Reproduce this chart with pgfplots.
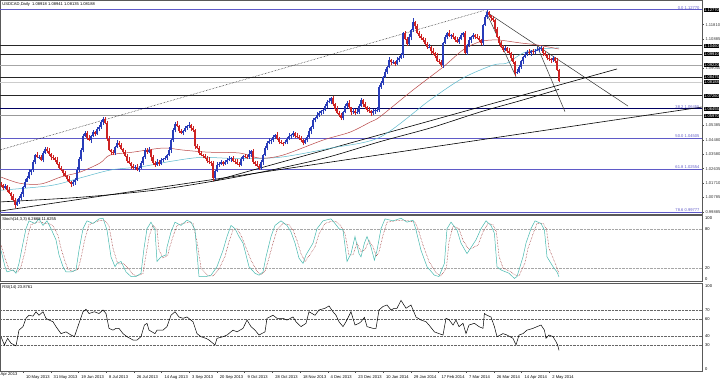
\documentclass[border=0pt]{standalone}
\usepackage{pgfplots}
\pgfplotsset{compat=1.18}
\usepackage{pgfplotstable}
\usepackage{fontspec}
\setmainfont{Liberation Sans}
\definecolor{upc}{RGB}{40,60,185}
\definecolor{dnc}{RGB}{205,35,35}
\definecolor{fibc}{RGB}{95,90,200}
\definecolor{ma1}{RGB}{185,70,70}
\definecolor{ma2}{RGB}{90,185,205}
\definecolor{stk}{RGB}{70,185,175}
\newcommand\ft{\fontsize{4.1}{5}\selectfont}
\pgfplotstableread{
i o h l c
0 160 172 140 150
1 150 158 119 135
2 135 160 128 145
3 145 155 107 120
4 120 140 96 105
5 105 111 60 80
6 80 94 49 60
7 60 69 5 25
8 25 63 19 45
9 45 81 33 70
10 70 107 60 95
11 95 148 79 140
12 140 190 133 175
13 175 210 187 200
14 200 255 191 235
15 235 256 215 250
16 250 314 239 300
17 300 354 285 345
18 345 363 324 330
19 330 346 318 335
20 335 347 304 314
21 314 368 298 360
22 360 398 353 385
23 385 395 357 370
24 370 390 341 350
25 350 356 312 332
26 332 346 314 325
27 325 334 299 314
28 314 332 284 290
29 290 301 253 265
30 265 277 240 250
31 250 258 214 230
32 230 245 203 210
33 210 220 177 190
34 190 210 166 175
35 175 181 140 160
36 160 184 149 170
37 170 195 155 186
38 186 268 180 250
39 250 331 238 320
40 320 390 310 378
41 378 478 362 470
42 470 502 463 487
43 487 497 442 455
44 455 475 433 442
45 442 476 422 470
46 470 507 459 493
47 493 502 465 480
48 480 528 474 510
49 510 536 498 525
50 525 567 515 555
51 555 590 539 575
52 575 590 544 551
53 551 561 437 450
54 450 470 369 378
55 378 384 345 365
56 365 379 348 359
57 359 404 344 395
58 395 441 389 423
59 423 434 398 410
60 410 422 375 385
61 385 393 349 365
62 365 380 333 340
63 340 350 297 310
64 310 330 286 295
65 295 301 255 275
66 275 289 251 262
67 262 279 247 270
68 270 288 244 250
69 250 276 238 265
70 265 307 255 295
71 295 338 279 330
72 330 393 323 378
73 378 388 352 365
74 365 398 356 378
75 378 384 310 330
76 330 344 284 295
77 295 304 267 282
78 282 318 276 300
79 300 311 278 290
80 290 326 280 314
81 314 328 298 320
82 320 342 313 327
83 327 355 314 345
84 345 398 336 378
85 378 446 358 440
86 440 520 429 506
87 506 554 491 545
88 545 563 524 530
89 530 541 488 500
90 500 512 477 487
91 487 508 471 500
92 500 534 493 519
93 519 540 506 530
94 530 558 521 538
95 538 544 500 520
96 520 534 495 506
97 506 515 385 400
98 400 418 384 390
99 390 401 348 360
100 360 372 336 346
101 346 354 324 340
102 340 355 320 327
103 327 337 297 310
104 310 330 291 300
105 300 306 275 295
106 295 309 180 200
107 200 249 185 240
108 240 300 234 282
109 282 301 270 290
110 290 313 280 301
111 301 309 274 290
112 290 316 283 301
113 301 325 288 315
114 315 340 306 320
115 320 333 300 327
116 327 341 299 310
117 310 319 286 301
118 301 319 284 290
119 290 301 270 282
120 282 332 272 320
121 320 348 304 340
122 340 355 328 335
123 335 345 317 330
124 330 375 321 355
125 355 378 335 372
126 372 386 290 301
127 301 310 275 290
128 290 308 269 275
129 275 286 250 262
130 262 312 252 300
131 300 354 284 346
132 346 405 339 390
133 390 433 377 423
134 423 455 414 435
135 435 448 415 442
136 442 474 431 460
137 460 483 445 474
138 474 492 444 450
139 450 461 418 430
140 430 442 413 423
141 423 431 404 420
142 420 444 413 429
143 429 460 416 450
144 450 485 441 465
145 465 480 445 474
146 474 501 463 487
147 487 496 455 470
148 470 488 454 460
149 460 471 443 455
150 455 467 430 440
151 440 448 407 423
152 423 455 416 440
153 440 471 427 461
154 461 520 452 500
155 500 531 480 525
156 525 584 514 570
157 570 589 555 580
158 580 618 574 600
159 600 626 588 615
160 615 637 605 625
161 625 642 609 634
162 634 675 627 660
163 660 695 647 685
164 685 710 676 690
165 690 717 670 711
166 711 725 659 670
167 670 679 625 640
168 640 658 609 615
169 615 626 588 600
170 600 612 573 583
171 583 628 567 620
172 620 675 613 660
173 660 689 647 679
174 679 699 641 650
175 650 656 601 621
176 621 644 610 630
177 630 639 600 615
178 615 639 609 621
179 621 671 609 660
180 660 710 650 698
181 698 706 654 670
182 670 685 643 650
183 650 660 621 634
184 634 654 616 625
185 625 631 595 615
186 615 639 604 625
187 625 643 610 634
188 625 652 619 634
189 634 792 622 781
190 781 822 771 810
191 810 853 794 845
192 845 895 838 880
193 880 919 867 909
194 909 975 900 955
195 955 961 920 940
196 940 956 929 942
197 942 951 915 930
198 930 973 924 955
199 955 981 943 970
200 970 998 960 986
201 986 1135 970 1127
202 1127 1142 1083 1090
203 1090 1100 1044 1057
204 1057 1120 1048 1100
205 1100 1153 1080 1147
206 1147 1224 1136 1198
207 1198 1207 1155 1170
208 1170 1188 1121 1127
209 1127 1138 1098 1110
210 1110 1122 1085 1095
211 1095 1103 1067 1083
212 1083 1098 1053 1060
213 1060 1070 1025 1038
214 1038 1060 1029 1040
215 1040 1046 995 1015
216 1015 1029 988 999
217 999 1008 965 980
218 980 998 944 950
219 950 961 930 942
220 942 954 912 922
221 922 1071 906 1063
222 1063 1115 1056 1100
223 1100 1137 1087 1127
224 1127 1147 1101 1110
225 1110 1121 1090 1115
226 1115 1129 1091 1102
227 1102 1111 1070 1085
228 1085 1103 1064 1070
229 1070 1101 1058 1090
230 1090 1127 1080 1115
231 1115 1135 1099 1127
232 1127 1142 993 1000
233 1000 1060 987 1050
234 1050 1103 1041 1083
235 1083 1106 1063 1100
236 1100 1129 1089 1115
237 1115 1124 1090 1105
238 1105 1123 1089 1095
239 1095 1106 1068 1080
240 1080 1092 1053 1063
241 1063 1188 1047 1180
242 1180 1245 1173 1230
243 1230 1277 1217 1262
244 1262 1268 1231 1240
245 1240 1246 1205 1225
246 1225 1239 1200 1211
247 1211 1220 1135 1150
248 1150 1168 1094 1100
249 1100 1111 1051 1063
250 1063 1075 1030 1040
251 1040 1048 1003 1019
252 1019 1046 1012 1031
253 1031 1041 997 1010
254 1010 1030 990 999
255 999 1005 950 970
256 970 984 931 942
257 942 951 855 870
258 870 898 864 880
259 880 920 868 909
260 909 957 899 945
261 945 981 929 973
262 973 1005 966 990
263 990 1016 977 1006
264 1006 1026 991 1000
265 1000 1016 980 1010
266 1010 1024 995 1006
267 1006 1024 991 1015
268 1015 1037 1009 1019
269 1019 1036 1007 1025
270 1025 1043 1015 1031
271 1031 1039 983 999
272 999 1014 978 985
273 985 995 954 967
274 967 987 951 960
275 960 966 935 955
276 955 981 944 967
277 967 976 935 950
278 950 968 886 892
279 892 894 814 819
}\candles
\begin{document}
\begin{tikzpicture}[x=1pt,y=1pt]
\fill[white] (0,0) rectangle (720,378);
% ---------------- main price panel
\begin{axis}[at={(0pt,164pt)}, anchor=south west, scale only axis,
  width=702pt, height=213.5pt,
  xmin=-0.5, xmax=350.5, ymin=-32.7, ymax=1335.9,
  clip mode=individual,
  axis line style={black!65, line width=0.6pt},
  xtick=\empty,
  ytick pos=right, tick align=outside, major tick length=1.5pt,
  ytick style={black!70, line width=0.4pt},
  ytick={1180.8,1088.5,903.8,534.6,442.3,350,257.7,165.4,73.1,-19.2},
  yticklabels={1.11810,1.10885,1.09040,1.05385,1.04480,1.03580,1.02635,1.01710,1.00785,0.99885},
  yticklabel style={font=\ft, anchor=west, xshift=-1.5pt, text=black!80},
  ]
% fib lines
\addplot[fibc, line width=0.5pt] coordinates {(-0.5,1277) (350.5,1277)};
\addplot[fibc, line width=0.5pt] coordinates {(-0.5,450.5) (350.5,450.5)};
\addplot[fibc, line width=0.5pt] coordinates {(-0.5,255.4) (350.5,255.4)};
\addplot[fibc, line width=0.5pt] coordinates {(-0.5,-22.3) (350.5,-22.3)};
% horizontal levels
\addplot[black!85, line width=0.5pt] coordinates {(-0.5,1046) (350.5,1046)};
\addplot[black!85, line width=0.5pt] coordinates {(-0.5,991) (350.5,991)};
\addplot[black!35, line width=1.0pt] coordinates {(-0.5,922) (350.5,922)};
\addplot[black!85, line width=0.5pt] coordinates {(-0.5,847) (350.5,847)};
\addplot[black!20, line width=0.5pt] coordinates {(-0.5,811) (350.5,811)};
\addplot[black!85, line width=0.5pt] coordinates {(-0.5,726) (350.5,726)};
\addplot[black!40, line width=0.6pt] coordinates {(-0.5,597) (350.5,597)};
\addplot[black!45!blue!70!black, line width=1.0pt] coordinates {(-0.5,642) (350.5,642)};
% trend lines
\addplot[black, densely dotted, line width=0.5pt] coordinates {(-0.5,378) (241.5,1272)};
\addplot[black!80, line width=0.5pt] coordinates {(242.5,1264) (313.5,659)};
\addplot[black!80, line width=0.5pt] coordinates {(242.5,1264) (257.5,847)};
\addplot[black!80, line width=0.5pt] coordinates {(267.8,1051) (282,623)};
\addplot[black, line width=0.6pt] coordinates {(106,178) (308,897)};
\addplot[black, line width=0.6pt] coordinates {(-0.5,-14) (350.5,653)};
% moving averages
\addplot[black, line width=0.6pt, smooth] coordinates {(0,45) (40,75) (80,125) (120,210) (160,320) (189.5,431) (215,520) (239.5,621) (260,695) (279,767)};
\addplot[ma2, line width=0.5pt, smooth] coordinates {(0,120) (25,150) (40,200) (55,250) (70,270) (85,305) (100,330) (120,322) (140,332) (165,390) (189.5,460) (214.5,698) (231,839) (246,922) (253,935) (261,999) (269.5,1025) (279,1032)};
\addplot[ma1, line width=0.5pt, smooth] coordinates {(0,204) (9.5,164) (20,160) (30,205) (39.5,236) (49.5,294) (54.5,345) (66,364) (81,390) (91,377) (103,364) (119.5,358) (129.5,325) (141,345) (161,441) (174.5,492) (184.5,556) (189.5,591) (206,762) (221,909) (231,1019) (239.5,1072) (248,1083) (259.5,1064) (268,1051) (279,1025)};
% candles: wicks
\addplot[draw=none, mark=none, error bars/.cd, y dir=plus, y explicit, error mark=none,
  error bar style={draw=upc, line width=0.45pt}]
  table[x=i, y expr={\thisrow{c}>=\thisrow{o} ? \thisrow{l} : nan}, y error expr=\thisrow{h}-\thisrow{l}] {\candles};
\addplot[draw=none, mark=none, error bars/.cd, y dir=plus, y explicit, error mark=none,
  error bar style={draw=dnc, line width=0.45pt}]
  table[x=i, y expr={\thisrow{c}<\thisrow{o} ? \thisrow{l} : nan}, y error expr=\thisrow{h}-\thisrow{l}] {\candles};
% candles: bodies
\addplot[draw=none, mark=none, error bars/.cd, y dir=plus, y explicit, error mark=none,
  error bar style={draw=upc, line width=1.3pt, line cap=butt}]
  table[x=i, y expr={\thisrow{c}>=\thisrow{o} ? \thisrow{o} : nan}, y error expr=\thisrow{c}-\thisrow{o}] {\candles};
\addplot[draw=none, mark=none, error bars/.cd, y dir=plus, y explicit, error mark=none,
  error bar style={draw=dnc, line width=1.3pt, line cap=butt}]
  table[x=i, y expr={\thisrow{c}<\thisrow{o} ? \thisrow{c} : nan}, y error expr=\thisrow{o}-\thisrow{c}] {\candles};
% labels
\node[font=\ft, anchor=north west, inner sep=0pt] at (rel axis cs:0.003,0.99) {USDCAD,Daily\ \ 1.08918 1.08941 1.08135 1.08188};
\node[font=\ft, text=fibc, anchor=south east, inner sep=0.4pt] at (axis cs:349.5,1277) {0.0\ 1.12770};
\node[font=\ft, text=fibc, anchor=south east, inner sep=0.4pt] at (axis cs:349.5,642) {38.2\ 1.06455};
\node[font=\ft, text=fibc, anchor=south east, inner sep=0.4pt] at (axis cs:349.5,450.5) {50.0\ 1.04505};
\node[font=\ft, text=fibc, anchor=south east, inner sep=0.4pt] at (axis cs:349.5,255.4) {61.8\ 1.02554};
\node[font=\ft, text=fibc, anchor=south east, inner sep=0.4pt] at (axis cs:349.5,-22.3) {78.6\ 0.99777};
\node[font=\ft, fill=black, text=white, anchor=west, inner sep=0.5pt] at (axis cs:351.2,1277) {1.12770};
\node[font=\ft, fill=black, text=white, anchor=west, inner sep=0.5pt] at (axis cs:351.2,1046) {1.10460};
\node[font=\ft, fill=black, text=white, anchor=west, inner sep=0.5pt] at (axis cs:351.2,991) {1.09910};
\node[font=\ft, fill=black, text=white, anchor=west, inner sep=0.5pt] at (axis cs:351.2,922) {1.09220};
\node[font=\ft, fill=black, text=white, anchor=west, inner sep=0.5pt] at (axis cs:351.2,847) {1.08475};
\node[font=\ft, fill=black, text=white, anchor=west, inner sep=0.5pt] at (axis cs:351.2,811) {1.08188};
\node[font=\ft, fill=black, text=white, anchor=west, inner sep=0.5pt] at (axis cs:351.2,726) {1.07260};
\node[font=\ft, fill=black, text=white, anchor=west, inner sep=0.5pt] at (axis cs:351.2,642) {1.06455};
\node[font=\ft, fill=black, text=white, anchor=west, inner sep=0.5pt] at (axis cs:351.2,597) {1.05970};
\end{axis}
% ---------------- stochastic panel
\begin{axis}[at={(0pt,96.9pt)}, anchor=south west, scale only axis,
  width=702pt, height=65.5pt,
  xmin=-0.5, xmax=350.5, ymin=0, ymax=100,
  clip mode=individual,
  axis line style={black!65, line width=0.6pt},
  xtick=\empty, ytick=\empty]
\addplot[black!35, densely dotted, line width=0.4pt] coordinates {(-0.5,20) (350.5,20)};
\addplot[black!35, densely dotted, line width=0.4pt] coordinates {(-0.5,80) (350.5,80)};
\addplot[dnc!70!black, densely dotted, line width=0.5pt] coordinates {(0,55) (2,35) (4,18) (7,15) (8.5,14) (10,22) (12,45) (13.5,70) (15,86) (18,90) (20,90) (22,88) (24,88) (26,84) (28.5,70) (30,50) (32,30) (33.5,18) (36,15) (38.5,18) (40,35) (42,65) (44,86) (47,90) (50,93) (52,92) (54,85) (56,50) (58,30) (59,26) (61,27) (63.5,20) (66,10) (68.5,8) (71,12) (72.5,40) (74,68) (76,85) (78,78) (79,48) (81,35) (83.5,40) (84,48) (86,68) (88,85) (91,88) (94,90) (96,88) (98,60) (100,20) (103.5,8) (106,8) (109,18) (112,38) (114,60) (116,78) (118,80) (120,70) (122,55) (125,32) (128,15) (130,10) (132,15) (133.5,30) (136,58) (138,78) (141,88) (144,86) (146,78) (148,62) (150,42) (152,30) (153.5,36) (157,52) (159,72) (162,88) (166,92) (168,90) (170,84) (172,72) (174,40) (176,40) (178,58) (180,45) (182,48) (184,62) (186,52) (187.7,38) (189,45) (191,70) (193,90) (197,92) (201,93) (204,92) (207,90) (208.5,80) (211,55) (214,30) (217.7,12) (220,8) (222.7,20) (224,60) (226,84) (229,80) (231,62) (234,48) (238.5,55) (241,75) (243.5,88) (246,86) (247.7,75) (249,38) (251,20) (255,14) (257.7,8) (259,8) (262,28) (263.5,50) (266,72) (268,88) (271,88) (272.7,80) (274,50) (277,28) (279,11.6)};
\addplot[stk, line width=0.5pt] coordinates {(0,47) (2,22) (3,14) (6,17) (7.5,12) (9,27) (11,58) (12.5,80) (14,92) (17,88) (19,95) (21,85) (23,92) (25,80) (27.5,63) (29,40) (31,22) (32.5,14) (35,14) (37.5,17) (39,47) (41,80) (43,92) (46,88) (49,95) (51,96) (53,78) (55,37) (57,22) (58,27) (60,30) (62.5,14) (65,7) (67.5,7) (70,12) (71.5,50) (73,80) (75,90) (77,78) (78,30) (80,37) (82.5,40) (83,52) (85,75) (87,90) (90,85) (93,93) (95,90) (97,78) (99,7) (102.5,7) (105,9) (108,22) (111,47) (113,68) (115,85) (117,80) (119,68) (121,58) (124,22) (127,12) (129,9) (131,14) (132.5,37) (135,68) (137,85) (140,92) (143,85) (145,75) (147,58) (149,35) (151,27) (152.5,40) (156,58) (158,80) (161,92) (165,95) (167,88) (169,80) (171,78) (173,30) (175,42) (177,68) (179,42) (180,37) (181.7,58) (183,68) (185,52) (186.7,32) (188,47) (190,80) (192,95) (196,92) (200,96) (203,90) (206,93) (207.5,78) (210,47) (213,22) (216.7,9) (219,7) (221.7,27) (223,80) (225,90) (228,78) (230,58) (233,42) (237.5,63) (240,80) (242.5,92) (245,85) (246.7,73) (248,22) (250,17) (254,12) (256.7,4) (258,7) (261,37) (262.5,58) (265,80) (267,92) (270,88) (271.7,78) (273,37) (276,22) (278,14) (279,6.3)};
\node[font=\ft, anchor=north west, inner sep=0pt] at (rel axis cs:0.003,0.97) {Stoch(14,3,3) 6.2668 11.6255};
\node[font=\ft, anchor=north west, inner sep=0pt] at (axis cs:352,99) {100};
\node[font=\ft, anchor=west, inner sep=0pt] at (axis cs:352,80) {80};
\node[font=\ft, anchor=west, inner sep=0pt] at (axis cs:352,20) {20};
\node[font=\ft, anchor=south west, inner sep=0pt] at (axis cs:352,1) {0};
\end{axis}
% ---------------- RSI panel
\begin{axis}[at={(0pt,6.75pt)}, anchor=south west, scale only axis,
  width=702pt, height=87.5pt,
  xmin=-0.5, xmax=350.5, ymin=0, ymax=100,
  clip mode=individual,
  axis line style={black!65, line width=0.6pt},
  ytick=\empty,
  xtick={11,24.85,38.7,52.55,66.4,80.25,94.1,107.95,121.8,135.65,149.5,163.35,177.2,191.05,204.9,218.75,232.6,246.45,260.3,274.15},
  xticklabels={10 May 2013,31 May 2013,19 Jun 2013,8 Jul 2013,26 Jul 2013,14 Aug 2013,3 Sep 2013,20 Sep 2013,9 Oct 2013,28 Oct 2013,18 Nov 2013,4 Dec 2013,23 Dec 2013,10 Jan 2014,29 Jan 2014,17 Feb 2014,7 Mar 2014,26 Mar 2014,14 Apr 2014,2 May 2014},
  xtick pos=bottom, tick align=outside, major tick length=1.5pt,
  xtick style={black!70, line width=0.4pt},
  xticklabel style={font=\ft, anchor=north west, xshift=-0.5pt, yshift=1pt}]
\addplot[black!60, densely dotted, line width=0.4pt] coordinates {(-0.5,30) (350.5,30)};
\addplot[black!60, densely dotted, line width=0.4pt] coordinates {(-0.5,40) (350.5,40)};
\addplot[black!60, densely dotted, line width=0.4pt] coordinates {(-0.5,60) (350.5,60)};
\addplot[black!60, densely dotted, line width=0.4pt] coordinates {(-0.5,70) (350.5,70)};
\addplot[black, line width=0.5pt] coordinates {(0,39.5) (1.7,30) (3.3,37.6) (5,32) (7.5,29) (9,47) (11,51) (12.5,60.5) (14,64) (16,63) (17.5,68) (19,64) (21,68) (22.5,60.5) (24,58.5) (26,56.6) (27.5,51) (30,43) (32.5,45) (35,41.4) (36.7,39.5) (39,54.8) (41,68) (42.5,70.8) (44,66) (46.7,68) (49,66) (51,70) (52.5,66) (54,49) (56,47) (57.5,49) (59,49) (61,43) (63,39.5) (66,35.7) (68,35.7) (70,39.5) (71.7,52.8) (73,54.8) (74,47) (77,43) (78,47) (81,47) (83,51) (85,64) (87,68) (89,62) (91,60.5) (93,62) (96,56.6) (98,43) (100,39.5) (102.5,37.6) (104,35.7) (107,30) (108,37.6) (111,39.5) (113,41.4) (116,47) (118,45) (121,49) (123,58.5) (125,51) (127,47) (129,41.4) (132,45) (133,60.5) (136,64) (138,60.5) (141,60.5) (143,58.5) (146,62) (147.5,56.6) (150,51) (152.5,54.8) (154,68) (157,64) (159,70) (162,72) (164,74.6) (166,68) (167.5,64) (169,56.6) (171,51) (172.5,56.6) (175,68) (177,52.8) (179,54.8) (180,56.6) (181.7,61.6) (183,51) (186,49) (187.5,49) (189,70) (191,74) (193,75.7) (195,70) (196.7,72) (198,72) (200,81) (202.5,72) (205,75.7) (207.5,62) (210,58.5) (212.5,56.6) (214,52.8) (216.7,45) (219,43) (221,41.4) (222.5,60.5) (224,59) (226,52.8) (227.5,58.5) (229,51) (231,54.8) (232.5,43) (234,52.8) (236.7,54.8) (239,51) (241,49) (241.7,66) (243,64) (245,62) (246.7,51) (248,39.5) (251,43) (253,41.4) (256,37.6) (257.5,30) (259,41.4) (261,43) (263,47) (266,49) (268,51) (270,52.8) (271.7,47) (272.5,37.6) (274,41.4) (276,39.5) (277.5,33.8) (278.3,30) (279,23.9)};
\node[font=\ft, anchor=north west, inner sep=0pt] at (rel axis cs:0.003,0.98) {RSI(14) 23.8761};
\node[font=\ft, anchor=north west, inner sep=0pt] at (axis cs:352,99) {100};
\node[font=\ft, anchor=south west, inner sep=0pt] at (axis cs:352,1) {0};
\node[font=\ft, anchor=west, inner sep=0pt] at (axis cs:352,70) {70};
\node[font=\ft, anchor=west, inner sep=0pt] at (axis cs:352,60) {60};
\node[font=\ft, anchor=west, inner sep=0pt] at (axis cs:352,40) {40};
\node[font=\ft, anchor=west, inner sep=0pt] at (axis cs:352,30) {30};
\end{axis}
\node[font=\ft, anchor=north west, inner sep=0pt] at (0.5,5.2) {Apr 2013};
\pgfresetboundingbox
\useasboundingbox (0,0) rectangle (720,378);
\end{tikzpicture}
\end{document}
